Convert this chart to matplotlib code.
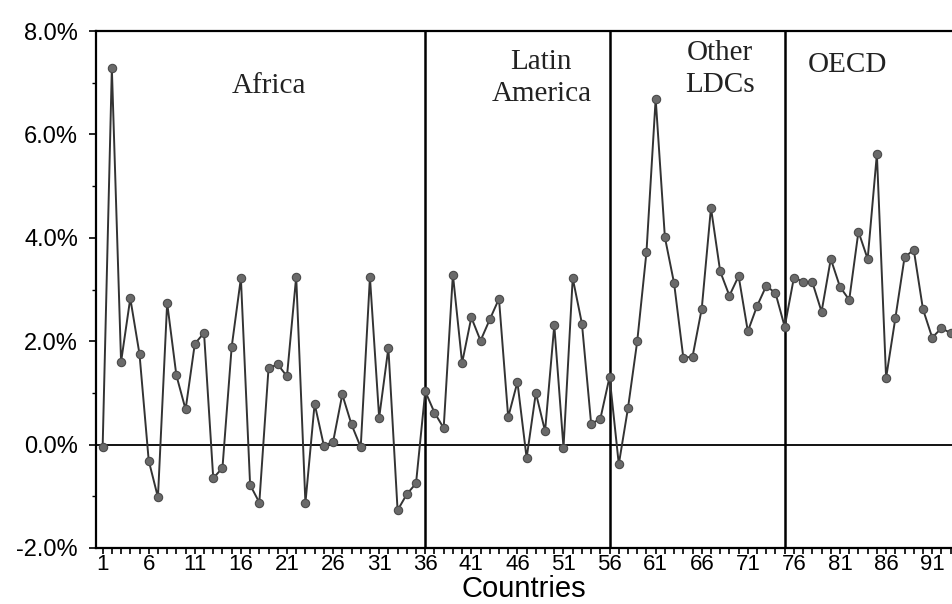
import numpy as np
import matplotlib.pyplot as plt
from matplotlib.ticker import FixedLocator, MultipleLocator, FuncFormatter

# growth rate per country (%)
growth = [
    -0.05, 7.28, 1.60, 2.83, 1.75, -0.31, -1.02, 2.74, 1.34, 0.68,
    1.95, 2.16, -0.65, -0.45, 1.89, 3.22, -0.78, -1.12, 1.48, 1.55,
    1.32, 3.25, -1.13, 0.79, -0.02, 0.05, 0.97, 0.39, -0.05, 3.24,
    0.52, 1.87, -1.27, -0.96, -0.75, 1.03, 0.62, 0.32, 3.29, 1.58,
    2.46, 2.01, 2.42, 2.82, 0.53, 1.21, -0.26, 1.00, 0.26, 2.31,
    -0.06, 3.22, 2.34, 0.40, 0.50, 1.31, -0.38, 0.71, 2.00, 3.72,
    6.69, 4.01, 3.12, 1.68, 1.70, 2.63, 4.58, 3.35, 2.88, 3.26,
    2.19, 2.68, 3.07, 2.93, 2.28, 3.23, 3.15, 3.14, 2.57, 3.59,
    3.05, 2.80, 4.12, 3.59, 5.62, 1.29, 2.44, 3.62, 3.77, 2.62,
    2.07, 2.25, 2.16,
]
countries = np.arange(1, len(growth) + 1)

group_bounds = [36, 56, 75]
group_names = ["Africa", "Latin\nAmerica", "Other\nLDCs", "OECD"]
group_label_x = [19.1, 48.6, 68.0, 81.8]
group_label_y = [6.93, 7.10, 7.26, 7.34]

xtick_pos = list(range(1, 97, 5))
ytick_pos = [-2, 0, 2, 4, 6, 8]

fig = plt.figure(figsize=(9.52, 6.04), dpi=100)
ax = fig.add_axes([96 / 952, 56 / 604, 1 - 96 / 952, (548 - 31) / 604])

ax.plot(countries, growth, color="#333333", lw=1.4, marker="o", ms=6,
        mfc="#6a6a6a", mec="#4a4a4a", mew=0.8, zorder=3)

ax.axhline(0, color="black", lw=1.3, zorder=2)
for b in group_bounds:
    ax.axvline(b, color="black", lw=1.8, zorder=2)

for name, gx, gy in zip(group_names, group_label_x, group_label_y):
    ax.text(gx, gy, name, ha="center", va="center", family="Liberation Serif",
            fontsize=21, color="#222222", linespacing=1.3)

ax.set_xlim(0.28, 93.15)
ax.set_ylim(-2, 8)

ax.xaxis.set_major_locator(FixedLocator(xtick_pos))
ax.xaxis.set_minor_locator(MultipleLocator(1))
ax.yaxis.set_major_locator(FixedLocator(ytick_pos))
ax.yaxis.set_minor_locator(MultipleLocator(1))
ax.yaxis.set_major_formatter(FuncFormatter(lambda v, p: f"{v:.1f}%"))

ax.tick_params(axis="x", which="both", direction="out", length=4, width=1.2,
               pad=0, labelsize=16)
ax.tick_params(axis="y", which="major", direction="out", length=5, width=1.2,
               pad=8, labelsize=17)
ax.tick_params(axis="y", which="minor", direction="out", length=3, width=1.0)
for lab in ax.get_xticklabels():
    lab.set_family(["Liberation Sans Narrow", "Liberation Sans"])
for lab in ax.get_yticklabels():
    lab.set_family("Liberation Sans")

ax.spines["right"].set_visible(False)
for s in ["left", "bottom", "top"]:
    ax.spines[s].set_linewidth(1.6)

ax.set_xlabel("Countries", family=["Liberation Sans Narrow", "Liberation Sans"],
              fontsize=21, labelpad=0)

fig.savefig("out.png", dpi=100)
